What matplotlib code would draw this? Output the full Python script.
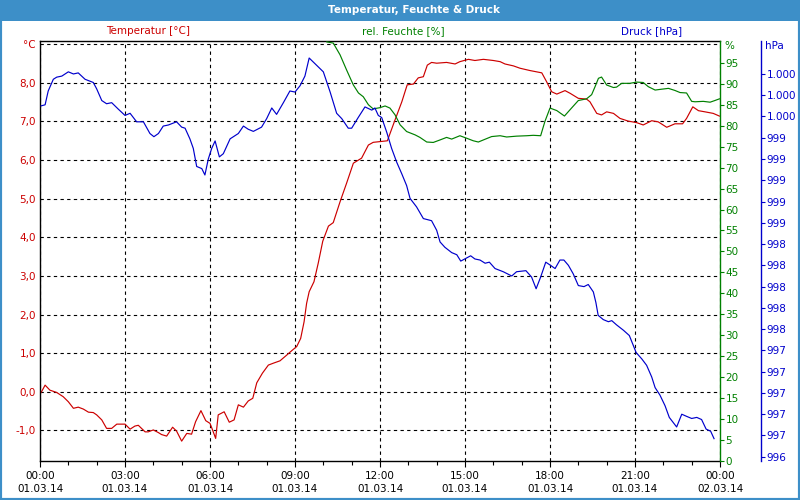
import matplotlib
matplotlib.use("Agg")
import matplotlib.pyplot as plt
import matplotlib.ticker as ticker
from matplotlib.patches import Rectangle

# ── Data (hours since 01.03.14 00:00) ─────────────────────────────────────────
temp_h = [0.04, 0.18, 0.35, 0.59, 0.82, 1.00, 1.18, 1.35, 1.53, 1.71, 1.88, 2.00, 2.18, 2.35,
          2.53, 2.71, 3.00, 3.18, 3.35, 3.47, 3.71, 3.82, 4.00, 4.18, 4.29, 4.47, 4.68, 4.82,
          5.00, 5.18, 5.35, 5.49, 5.68, 5.85, 6.00, 6.09, 6.20, 6.29, 6.50, 6.68, 6.85, 7.00,
          7.18, 7.35, 7.51, 7.65, 7.85, 8.06, 8.24, 8.47, 8.71, 8.88, 9.06, 9.20, 9.32, 9.41,
          9.50, 9.67, 9.82, 9.98, 10.18, 10.35, 10.59, 10.82, 11.06, 11.35, 11.59, 11.76,
          12.26, 12.53, 12.77, 12.96, 13.18, 13.35, 13.53, 13.67, 13.82, 14.00, 14.35, 14.65,
          14.82, 15.12, 15.35, 15.65, 16.00, 16.24, 16.41, 16.71, 16.94, 17.29, 17.71, 17.88,
          18.06, 18.24, 18.53, 18.71, 19.00, 19.29, 19.41, 19.65, 19.82, 20.00, 20.24, 20.47,
          20.76, 21.06, 21.29, 21.59, 21.82, 22.12, 22.41, 22.68, 22.82, 23.04, 23.24, 23.47,
          23.76, 23.98]
temp_c = [-0.02, 0.17, 0.04, -0.02, -0.13, -0.26, -0.43, -0.40, -0.45, -0.53, -0.54, -0.60,
          -0.73, -0.95, -0.95, -0.84, -0.84, -0.97, -0.89, -0.87, -1.04, -1.04, -0.99, -1.06,
          -1.11, -1.15, -0.92, -1.02, -1.28, -1.08, -1.10, -0.78, -0.49, -0.75, -0.82, -0.99,
          -1.21, -0.60, -0.52, -0.79, -0.73, -0.34, -0.40, -0.24, -0.17, 0.23, 0.48, 0.69,
          0.74, 0.80, 0.95, 1.06, 1.17, 1.38, 1.81, 2.29, 2.59, 2.85, 3.33, 3.90, 4.29, 4.38,
          4.92, 5.40, 5.92, 6.05, 6.39, 6.46, 6.50, 7.04, 7.51, 7.95, 7.97, 8.13, 8.16, 8.46,
          8.53, 8.51, 8.53, 8.49, 8.55, 8.61, 8.58, 8.61, 8.58, 8.55, 8.49, 8.44, 8.38, 8.32,
          8.26, 8.03, 7.77, 7.71, 7.80, 7.73, 7.60, 7.58, 7.51, 7.21, 7.17, 7.25, 7.21, 7.08,
          7.01, 6.97, 6.91, 7.02, 6.99, 6.85, 6.94, 6.94, 7.08, 7.38, 7.28, 7.25, 7.21, 7.14]

hum_h = [10.12, 10.35, 10.59, 10.82, 11.06, 11.24, 11.41, 11.59, 11.76, 12.00, 12.18, 12.35,
         12.53, 12.71, 12.94, 13.24, 13.41, 13.65, 13.88, 14.12, 14.35, 14.53, 14.82, 15.06,
         15.29, 15.47, 15.65, 15.94, 16.24, 16.47, 16.82, 17.18, 17.41, 17.67, 17.82, 18.00,
         18.24, 18.51, 18.76, 19.00, 19.29, 19.47, 19.59, 19.71, 19.82, 20.00, 20.24, 20.35,
         20.53, 20.82, 21.06, 21.29, 21.47, 21.71, 21.94, 22.18, 22.41, 22.59, 22.82, 23.00,
         23.12, 23.41, 23.65, 23.82, 23.98]
hum_pct = [100.0, 99.7, 96.9, 93.3, 89.7, 87.8, 86.9, 85.0, 84.0, 84.3, 84.7, 84.2, 82.6,
           80.2, 78.6, 77.8, 77.2, 76.1, 76.0, 76.6, 77.2, 76.8, 77.6, 77.0, 76.4, 76.1, 76.6,
           77.4, 77.6, 77.3, 77.5, 77.6, 77.7, 77.6, 81.0, 84.2, 83.6, 82.3, 84.2, 86.0, 86.4,
           87.4, 89.3, 91.3, 91.6, 89.7, 89.1, 89.2, 90.1, 90.1, 90.4, 90.3, 89.3, 88.5, 88.7,
           88.9, 88.4, 87.9, 87.8, 85.8, 85.7, 85.8, 85.6, 86.0, 86.4]

pres_h = [0.04, 0.18, 0.29, 0.47, 0.59, 0.77, 1.00, 1.18, 1.35, 1.59, 1.88, 2.00, 2.18, 2.35,
          2.53, 2.76, 3.00, 3.18, 3.41, 3.65, 3.88, 4.02, 4.18, 4.35, 4.53, 4.82, 5.00, 5.12,
          5.29, 5.41, 5.53, 5.71, 5.82, 5.94, 6.06, 6.18, 6.33, 6.47, 6.71, 7.00, 7.18, 7.35,
          7.53, 7.82, 8.00, 8.18, 8.35, 8.59, 8.82, 9.00, 9.18, 9.35, 9.50, 9.77, 10.00, 10.24,
          10.47, 10.65, 10.88, 11.00, 11.23, 11.47, 11.71, 11.82, 11.94, 12.06, 12.24, 12.41,
          12.59, 12.77, 12.94, 13.06, 13.29, 13.53, 13.82, 14.00, 14.12, 14.29, 14.53, 14.71,
          14.85, 15.06, 15.20, 15.35, 15.53, 15.71, 15.86, 16.06, 16.35, 16.65, 16.82, 17.15,
          17.35, 17.51, 17.67, 17.85, 18.02, 18.18, 18.35, 18.49, 18.65, 18.82, 19.00, 19.20,
          19.35, 19.53, 19.62, 19.70, 19.88, 20.06, 20.18, 20.35, 20.59, 20.80, 20.92, 21.04,
          21.24, 21.41, 21.59, 21.71, 21.88, 22.06, 22.21, 22.47, 22.65, 22.82, 23.00, 23.18,
          23.35, 23.51, 23.67, 23.79]
pres_hpa = [999.70, 999.71, 999.84, 999.95, 999.97, 999.98, 1000.02, 1000.00, 1000.01, 999.95,
            999.92, 999.86, 999.75, 999.72, 999.73, 999.67, 999.61, 999.63, 999.55, 999.55,
            999.44, 999.41, 999.44, 999.51, 999.52, 999.55, 999.50, 999.49, 999.39, 999.30,
            999.13, 999.11, 999.05, 999.20, 999.30, 999.37, 999.22, 999.25, 999.39, 999.44,
            999.51, 999.48, 999.46, 999.50, 999.58, 999.68, 999.62, 999.73, 999.84, 999.83,
            999.89, 999.98, 1000.15, 1000.08, 1000.02, 999.83, 999.63, 999.58, 999.49, 999.49,
            999.59, 999.69, 999.66, 999.68, 999.61, 999.59, 999.45, 999.30, 999.17, 999.06,
            998.95, 998.83, 998.75, 998.64, 998.62, 998.53, 998.42, 998.37, 998.32, 998.30,
            998.24, 998.27, 998.29, 998.26, 998.25, 998.22, 998.23, 998.17, 998.14, 998.10,
            998.14, 998.15, 998.09, 997.98, 998.09, 998.23, 998.20, 998.17, 998.25, 998.25,
            998.20, 998.12, 998.01, 998.00, 998.02, 997.95, 997.85, 997.73, 997.69, 997.67,
            997.68, 997.64, 997.59, 997.54, 997.46, 997.38, 997.32, 997.26, 997.15, 997.05,
            996.98, 996.88, 996.77, 996.68, 996.80, 996.78, 996.76, 996.77, 996.75, 996.66,
            996.64, 996.57]

x_ticks = [0, 3, 6, 9, 12, 15, 18, 21, 24]
x_labels = ["00:00\n01.03.14", "03:00\n01.03.14", "06:00\n01.03.14", "09:00\n01.03.14",
            "12:00\n01.03.14", "15:00\n01.03.14", "18:00\n01.03.14", "21:00\n01.03.14",
            "00:00\n02.03.14"]
temp_ticks = [-1, 0, 1, 2, 3, 4, 5, 6, 7, 8, 9]
hum_ticks = list(range(0, 100, 5))
pres_ticks = [996.4, 996.6, 996.8, 997.0, 997.2, 997.4, 997.6, 997.8, 998.0, 998.2,
              998.4, 998.6, 998.8, 999.0, 999.2, 999.4, 999.6, 999.8, 1000.0]

RED = '#cc0000'
GREEN = '#008000'
BLUE = '#0000cc'
BAR = '#3d8fc8'
FS = 7.5

plt.rcParams['font.family'] = 'DejaVu Sans'

W, H = 800, 500
fig = plt.figure(figsize=(8, 5), dpi=100, facecolor='white')

def fx(px):
    return px / W

def fy(py):
    return 1 - py / H

# title bar + frame
fig.patches.append(Rectangle((0, fy(21)), 1, 21 / H, transform=fig.transFigure,
                             facecolor=BAR, edgecolor='none', zorder=0))
fig.patches.append(Rectangle((0, 0), 1, 1, transform=fig.transFigure,
                             fill=False, edgecolor=BAR, linewidth=3, zorder=5))
fig.text(fx(414), fy(10), "Temperatur, Feuchte & Druck", color='white', fontsize=7.5,
         fontweight='bold', ha='center', va='center')

fig.text(fx(148), fy(31), "Temperatur [°C]", color=RED, fontsize=FS, ha='center', va='center')
fig.text(fx(403), fy(31), "rel. Feuchte [%]", color=GREEN, fontsize=FS, ha='center', va='center')
fig.text(fx(652), fy(31), "Druck [hPa]", color=BLUE, fontsize=FS, ha='center', va='center')

# ── Temperature axis ──────────────────────────────────────────────────────────
ax = fig.add_axes([fx(40), fy(461), fx(720) - fx(40), fy(41) - fy(461)])
ax.plot(temp_h, temp_c, color=RED, linewidth=0.85)
ax.set_xlim(0, 24)
ax.set_ylim(-1.795, 9.085)
ax.set_yticks(temp_ticks)
ax.yaxis.set_major_formatter(ticker.FuncFormatter(
    lambda v, p: '°C' if v > 8.5 else f"{v:.1f}".replace('.', ',')))
ax.tick_params(axis='y', length=0, pad=3, labelcolor=RED, labelsize=FS)
ax.set_xticks(x_ticks)
ax.set_xticklabels(x_labels)
ax.xaxis.set_minor_locator(ticker.MultipleLocator(1))
ax.tick_params(axis='x', which='major', length=4, width=0.8, pad=3, labelsize=FS,
               colors='black')
ax.tick_params(axis='x', which='minor', length=3, width=0.8)
for lbl in ax.get_xticklabels():
    lbl.set_linespacing(1.45)
ax.grid(True, color='black', linestyle=(0, (3, 3)), linewidth=0.8)
ax.spines['right'].set_visible(False)
for s in ('left', 'bottom', 'top'):
    ax.spines[s].set_color('black')
    ax.spines[s].set_linewidth(1)

# ── Humidity axis ─────────────────────────────────────────────────────────────
ax2 = ax.twinx()
ax2.plot(hum_h, hum_pct, color=GREEN, linewidth=0.85)
ax2.set_ylim(0, 100.2)
ax2.set_yticks(hum_ticks)
ax2.tick_params(axis='y', colors=GREEN, length=3, width=0.8, pad=1, labelsize=FS)
for s in ('left', 'bottom', 'top'):
    ax2.spines[s].set_visible(False)
ax2.spines['right'].set_color(GREEN)
ax2.spines['right'].set_linewidth(1)
fig.text(fx(724), fy(46), "%", color=GREEN, fontsize=FS, ha='left', va='center')

# ── Pressure axis ─────────────────────────────────────────────────────────────
ax3 = ax.twinx()
ax3.plot(pres_h, pres_hpa, color=BLUE, linewidth=0.85)
ax3.set_ylim(996.36, 1000.31)
ax3.set_yticks(pres_ticks)
ax3.yaxis.set_major_formatter(ticker.FuncFormatter(
    lambda v, p: f"{int(round(v)):,}".replace(',', '.')))
ax3.spines['right'].set_position(('axes', (761 - 40) / 680))
for s in ('left', 'bottom', 'top'):
    ax3.spines[s].set_visible(False)
ax3.spines['right'].set_color(BLUE)
ax3.spines['right'].set_linewidth(1)
ax3.tick_params(axis='y', colors=BLUE, length=3, width=0.8, pad=1, labelsize=FS)
fig.text(fx(765), fy(46), "hPa", color=BLUE, fontsize=FS, ha='left', va='center')

fig.savefig("out.png", dpi=100)
